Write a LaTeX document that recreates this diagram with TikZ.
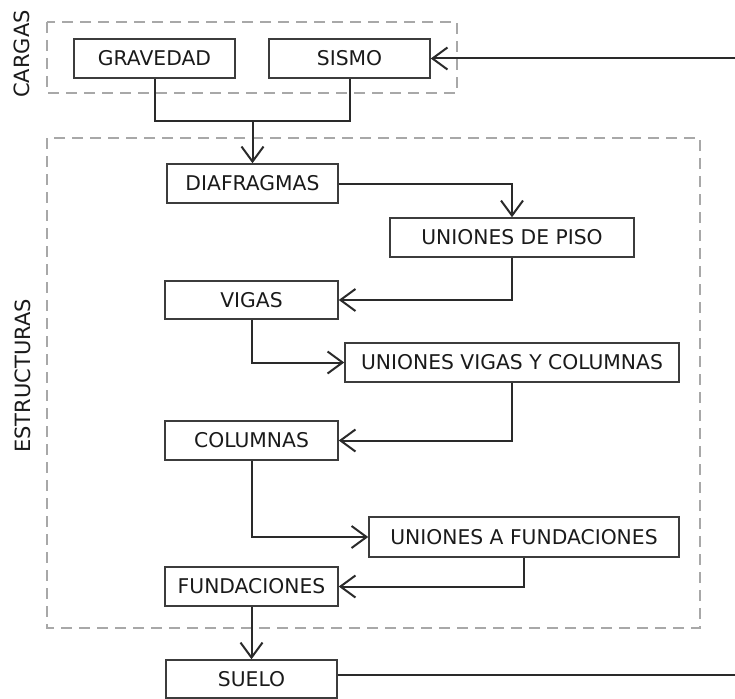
\documentclass[tikz,border=0pt]{standalone}
\usepackage{fontspec}
\setmainfont{DejaVu Sans}
\usetikzlibrary{arrows.meta}
\definecolor{boxline}{HTML}{3C3C3C}
\definecolor{conn}{HTML}{2A2A2A}
\definecolor{dashgray}{HTML}{A8A8A8}
\definecolor{txt}{HTML}{1A1A1A}
\tikzset{
  box/.style={draw=boxline, line width=1.5pt, inner sep=0pt, text=txt,
    font=\fontsize{20.3}{24}\selectfont, anchor=center},
  grp/.style={draw=dashgray, line width=2.8pt, dash pattern=on 11pt off 7pt},
  conline/.style={draw=conn, line width=2pt},
  arr/.style={conline, -{Straight Barb[length=15pt,width=22pt]}},
  sidelabel/.style={rotate=90, text=txt, font=\fontsize{21}{25}\selectfont, inner sep=0pt}
}
\begin{document}
\begin{tikzpicture}[x=1pt,y=-1pt]
\useasboundingbox (0,0) rectangle (735,698);
% group frames
\draw[grp] (47,22) rectangle (457,93);
\draw[grp] (47,138) rectangle (700,628);
\node[sidelabel] (lcargas) at (22,54) {CARGAS};
\node[sidelabel] (lestr) at (23,376) {ESTRUCTURAS};
% boxes
\node[box, minimum width=161pt, minimum height=39pt] (grav) at (154.5,58.5) {GRAVEDAD};
\node[box, minimum width=161pt, minimum height=39pt] (sismo) at (349.5,58.5) {SISMO};
\node[box, minimum width=171pt, minimum height=39pt] (diaf) at (252.5,183.5) {DIAFRAGMAS};
\node[box, minimum width=244pt, minimum height=39pt] (upiso) at (512,237.5) {UNIONES DE PISO};
\node[box, minimum width=173pt, minimum height=38pt] (vigas) at (251.5,300) {VIGAS};
\node[box, minimum width=334pt, minimum height=39pt] (uvc) at (512,362.5) {UNIONES VIGAS Y COLUMNAS};
\node[box, minimum width=173pt, minimum height=39pt] (col) at (251.5,440.5) {COLUMNAS};
\node[box, minimum width=310pt, minimum height=40pt] (ufund) at (524,537) {UNIONES A FUNDACIONES};
\node[box, minimum width=173pt, minimum height=39pt] (fund) at (251.5,586.5) {FUNDACIONES};
\node[box, minimum width=171pt, minimum height=38pt] (suelo) at (251.5,679) {SUELO};
% free ends / junctions
\coordinate (j) at (252.5,121);
\coordinate (e1) at (736,58.5);
\coordinate (e2) at (736,675);
% connectors
\draw[conline] (grav.south) |- (j);
\draw[conline] (sismo.south) |- (j);
\draw[arr] (j) -- (diaf.north);
\draw[arr] (e1) -- (sismo.east);
\draw[arr] (diaf.east) -| (upiso.north);
\draw[arr] (upiso.south) |- (vigas.east);
\draw[arr] (vigas.south) |- (uvc.west);
\draw[arr] (uvc.south) |- (col.east);
\draw[arr] (col.south) |- (ufund.west);
\draw[arr] (ufund.south) |- (fund.east);
\draw[arr] (fund.south) -- (suelo.north);
\draw[conline] (suelo.east |- e2) -- (e2);
\end{tikzpicture}
\end{document}
